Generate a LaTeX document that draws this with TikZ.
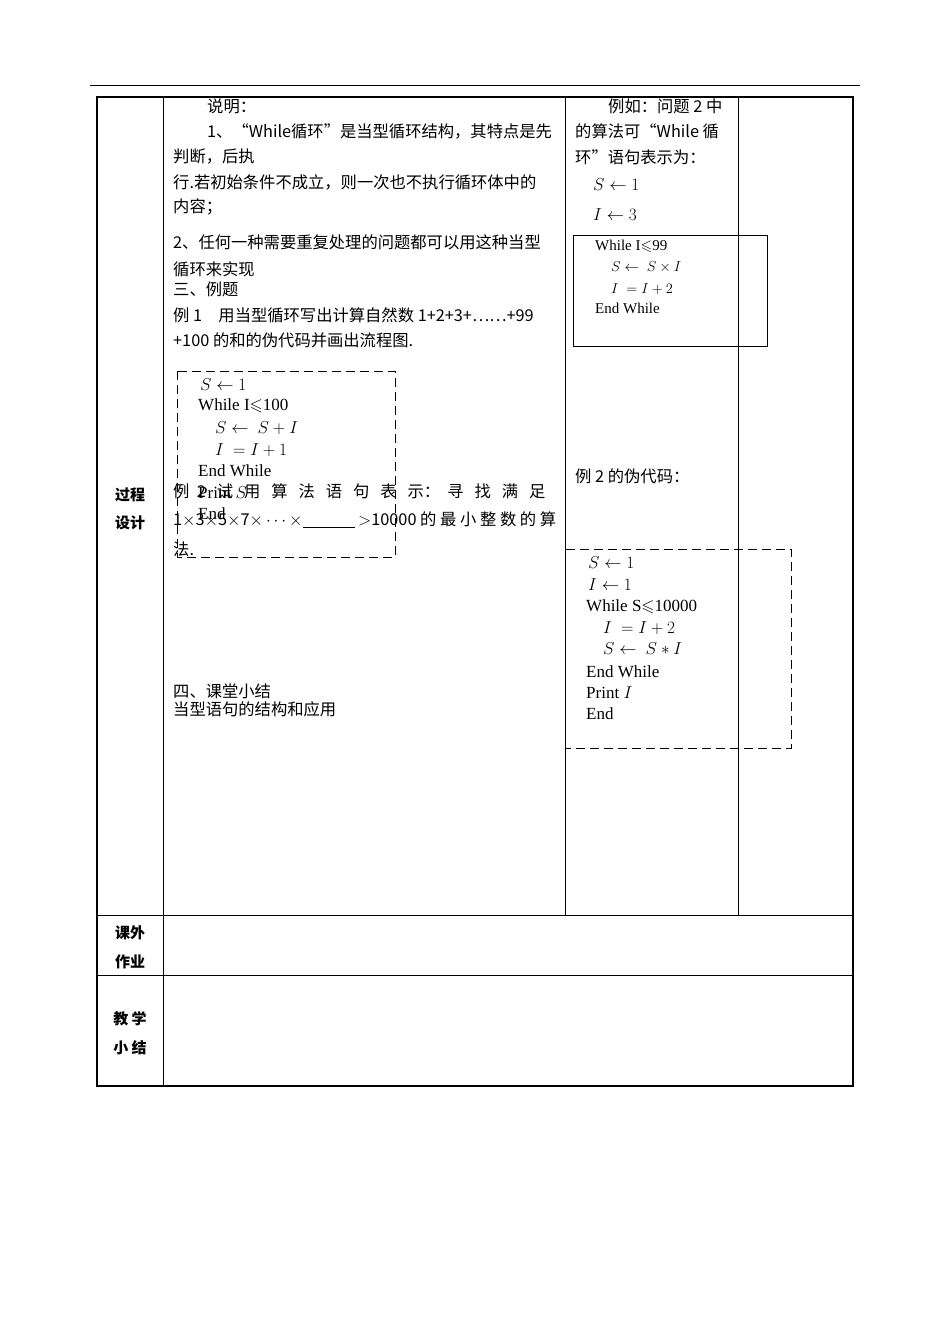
\documentclass[tikz,border=0pt]{standalone}
\usepackage{amssymb}
\usepackage{fontspec}
\setmainfont{Liberation Serif}
\newfontfamily\cjk{Noto Sans CJK SC}
\begin{document}
\begin{tikzpicture}[x=1pt,y=-1pt,
  cn/.style={anchor=west,inner sep=0pt,font=\cjk\fontsize{16.3}{16}\selectfont},
  cd/.style={anchor=west,inner sep=0pt,font=\fontsize{17}{17}\selectfont},
  cs/.style={anchor=west,inner sep=0pt,font=\fontsize{15}{15}\selectfont},
  lb/.style={inner sep=0pt,font=\cjk\bfseries\fontsize{15}{15}\selectfont},
  tline/.style={line width=0.8pt},
  dbox/.style={dashed,dash pattern=on 9pt off 5pt,line width=1pt}]
\useasboundingbox (0,0) rectangle (950,1344);
\draw[line width=0.8pt] (90,85) -- (860,85);
\draw[line width=1.6pt] (97,97) rectangle (853,1086);
\draw[tline] (163,97) -- (163,1086);
\draw[tline] (565,97) -- (565,915);
\draw[tline] (738,97) -- (738,915);
\draw[tline] (97,915) -- (853,915);
\draw[tline] (97,975) -- (853,975);
\node[lb] (l1) at (130,495) {过程};
\node[lb] (l2) at (130,523) {设计};
\node[lb] (l3) at (130,933) {课外};
\node[lb] (l4) at (130,962) {作业};
\node[lb] (l5) at (130,1019) {教\ 学};
\node[lb] (l6) at (130,1048) {小\ 结};
% left column
\node[cn] (t1) at (207,106) {说明：};
\node[cn] (t2) at (207,131) {1、“While循环”是当型循环结构，其特点是先};
\node[cn] (t3) at (173,157) {判断，后执};
\node[cn] (t4) at (173,182) {行.若初始条件不成立，则一次也不执行循环体中的};
\node[cn] (t5) at (173,207) {内容；};
\node[cn] (t6) at (173,242) {2、任何一种需要重复处理的问题都可以用这种当型};
\node[cn] (t7) at (173,269) {循环来实现};
\node[cn] (t8) at (173,289) {三、例题};
\node[cn] (t9) at (173,315) {例 1\quad 用当型循环写出计算自然数 1+2+3+……+99};
\node[cn] (t10) at (173,340) {+100 的和的伪代码并画出流程图.};
\draw[dbox] (177,371) rectangle (395,557);
\node[cd] (a1) at (200,385) {$S\leftarrow 1$};
\node[cd] (a2) at (198,406) {While I$\leqslant$100};
\node[cd] (a3) at (215,428) {$S\leftarrow\ S+I$};
\node[cd] (a4) at (215,450) {$I\ =I+1$};
\node[cd] (a5) at (198,471) {End While};
\node[cd] (a6) at (198,493) {Print $S$};
\node[cd] (a7) at (198,514) {End};
\node[cn] (e1) at (173,491) {例\ \ 2\ \ \ 试\ \ \ 用\ \ \ 算\ \ \ 法\ \ \ 语\ \ \ 句\ \ \ 表\ \ \ 示：\ \ 寻\ \ \ 找\ \ \ 满\ \ \ 足};
\node[cn] (e2) at (173,520) {1$\times$3$\times$5$\times$7$\times\cdots\times$\underline{\hspace{52pt}} $>$10000 的\ 最\ 小\ 整\ 数\ 的\ 算};
\node[cn] (e3) at (173,549) {法.};
\node[cn] (s1) at (173,691) {四、课堂小结};
\node[cn] (s2) at (173,709) {当型语句的结构和应用};
% right column
\node[cn] (r1) at (608,106) {例如：问题 2 中};
\node[cn] (r2) at (575,131) {的算法可“While 循};
\node[cn] (r3) at (575,157) {环”语句表示为：};
\node[cd] (r4) at (593,185) {$S\leftarrow 1$};
\node[cd] (r5) at (593,215) {$I\leftarrow 3$};
\draw[line width=1pt] (573,235) rectangle (767,346);
\node[cs] (b1) at (595,246) {While I$\leqslant$99};
\node[cs] (b2) at (611,267) {$S\leftarrow\ S\times I$};
\node[cs] (b3) at (611,289) {$I\ =I+2$};
\node[cs] (b4) at (595,308) {End While};
\node[cn] (r6) at (575,476) {例 2 的伪代码：};
\draw[dbox] (565,549) rectangle (791,748);
\node[cd] (c1) at (588,563) {$S\leftarrow 1$};
\node[cd] (c2) at (588,585) {$I\leftarrow 1$};
\node[cd] (c3) at (586,607) {While S$\leqslant$10000};
\node[cd] (c4) at (603,628) {$I\ =I+2$};
\node[cd] (c5) at (603,649) {$S\leftarrow\ S*I$};
\node[cd] (c6) at (586,672) {End While};
\node[cd] (c7) at (586,693) {Print\ $I$};
\node[cd] (c8) at (586,714) {End};
\end{tikzpicture}
\end{document}
